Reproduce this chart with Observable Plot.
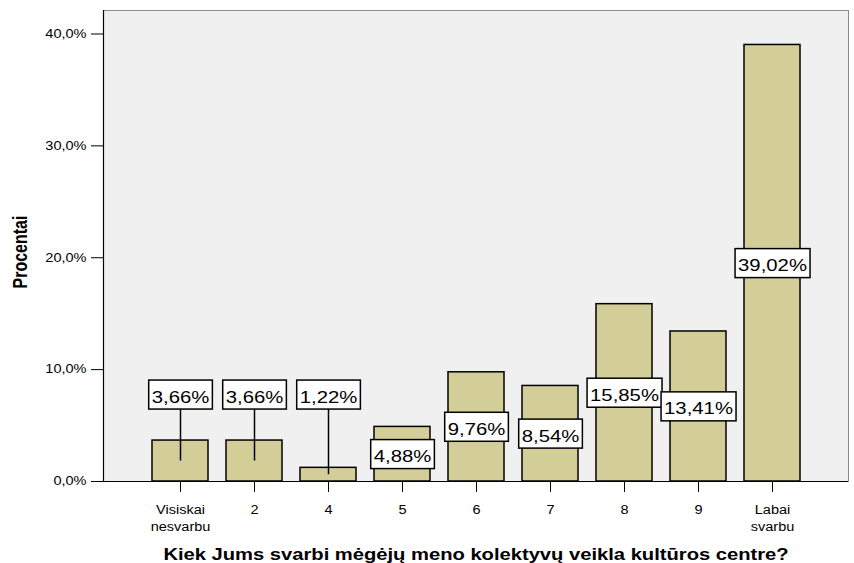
<!DOCTYPE html>
<html>
<head>
<meta charset="utf-8">
<script src="https://cdn.jsdelivr.net/npm/d3@7"></script>
<script src="https://cdn.jsdelivr.net/npm/@observablehq/plot@0.6"></script>
<style>
  html, body { margin: 0; padding: 0; background: #fff; }
  #chart svg { display: block; }
</style>
</head>
<body>
<div id="chart"></div>
<script>
const categories = ["Visiskai nesvarbu", "2", "4", "5", "6", "7", "8", "9", "Labai svarbu"];
const tickLabels = ["Visiskai\nnesvarbu", "2", "4", "5", "6", "7", "8", "9", "Labai\nsvarbu"];
const values = [3.66, 3.66, 1.22, 4.88, 9.76, 8.54, 15.85, 13.41, 39.02];
const yTicks = [0, 10, 20, 30, 40];
const xTitle = "Kiek Jums svarbi mėgėjų meno kolektyvų veikla kultūros centre?";
const yTitle = "Procentai";

const data = categories.map((c, i) => ({cat: c, value: values[i]}));
const outside = d => d.value < 4;
const labelOutY = 7.76;
const fmtPct = d => d.value.toFixed(2).replace(".", ",") + "%";

const chart = Plot.plot({
  width: 854,
  height: 563,
  marginLeft: 103,
  marginRight: 6,
  marginTop: 10,
  marginBottom: 82,
  style: {fontFamily: "'Liberation Sans', Arial, sans-serif", background: "#fff", color: "#000"},
  x: {domain: categories, paddingInner: 0.25, paddingOuter: 0.624},
  y: {domain: [0, 42.1]},
  marks: [
    Plot.frame({fill: "#f0f0f0", stroke: "#8a8a8a"}),
    Plot.axisY({ticks: yTicks, tickSize: 12, tickPadding: 5, fontSize: 12, label: null,
      tickFormat: d => d.toFixed(1).replace(".", ",") + "%", className: "stretch"}),
    Plot.axisX({tickSize: 11, tickPadding: 10, fontSize: 12, lineHeight: 1.4, label: null,
      tickFormat: d => tickLabels[categories.indexOf(d)], className: "stretch"}),
    Plot.barY(data, {x: "cat", y: "value", fill: "#d3ce97", stroke: "#000", strokeWidth: 1.5}),
    Plot.ruleY([0], {stroke: "#000", strokeWidth: 1.2}),
    Plot.frame({anchor: "left", stroke: "#000", strokeWidth: 1.2}),
    Plot.ruleX(data.filter(outside), {x: "cat", y1: d => d.value / 2, y2: labelOutY, stroke: "#000", strokeWidth: 1.5}),
    Plot.text(data, {x: "cat", y: d => outside(d) ? labelOutY : d.value / 2, text: fmtPct,
      fontSize: 16.8, lineAnchor: "middle", dy: 2.5, fill: "#000", className: "vlabel"}),
    Plot.text([xTitle], {frameAnchor: "bottom", dy: 73, text: d => d, fontSize: 16.4, fontWeight: "bold",
      textAnchor: "middle", lineAnchor: "middle", fill: "#000", className: "xtitle"}),
    Plot.text([yTitle], {frameAnchor: "left", dx: -83, dy: 6, rotate: -90, text: d => d, fontSize: 16,
      fontWeight: "bold", textAnchor: "middle", lineAnchor: "middle", fill: "#000", className: "ytitle"})
  ]
});

document.getElementById("chart").appendChild(chart);

// horizontal stretch of the reference's typography
function stretchText(el, k) {
  const tspans = el.querySelectorAll("tspan");
  const targets = tspans.length ? Array.from(tspans) : [el];
  for (const t of targets) {
    const w = t.getComputedTextLength();
    if (w > 0) {
      t.setAttribute("textLength", (w * k).toFixed(2));
      t.setAttribute("lengthAdjust", "spacingAndGlyphs");
    }
  }
}
chart.querySelectorAll("g.stretch text, g.vlabel text").forEach(t => stretchText(t, 1.21));
chart.querySelectorAll("g.xtitle text").forEach(t => stretchText(t, 1.23));
chart.querySelectorAll("g.ytitle text").forEach(t => {
  const tr = t.getAttribute("transform") || "";
  t.setAttribute("transform", tr + " scale(1,1.21)");
});

// boxes behind value labels
chart.querySelectorAll("g.vlabel text").forEach(t => {
  const bb = t.getBBox();
  const cy = bb.y + bb.height / 2 - 2.5;
  const r = document.createElementNS("http://www.w3.org/2000/svg", "rect");
  r.setAttribute("x", bb.x - 3);
  r.setAttribute("y", cy - 14.5);
  r.setAttribute("width", bb.width + 6);
  r.setAttribute("height", 29);
  r.setAttribute("fill", "#fff");
  r.setAttribute("stroke", "#000");
  r.setAttribute("stroke-width", 1.5);
  const tr = t.getAttribute("transform");
  if (tr) r.setAttribute("transform", tr);
  t.parentNode.insertBefore(r, t);
});
</script>
</body>
</html>
